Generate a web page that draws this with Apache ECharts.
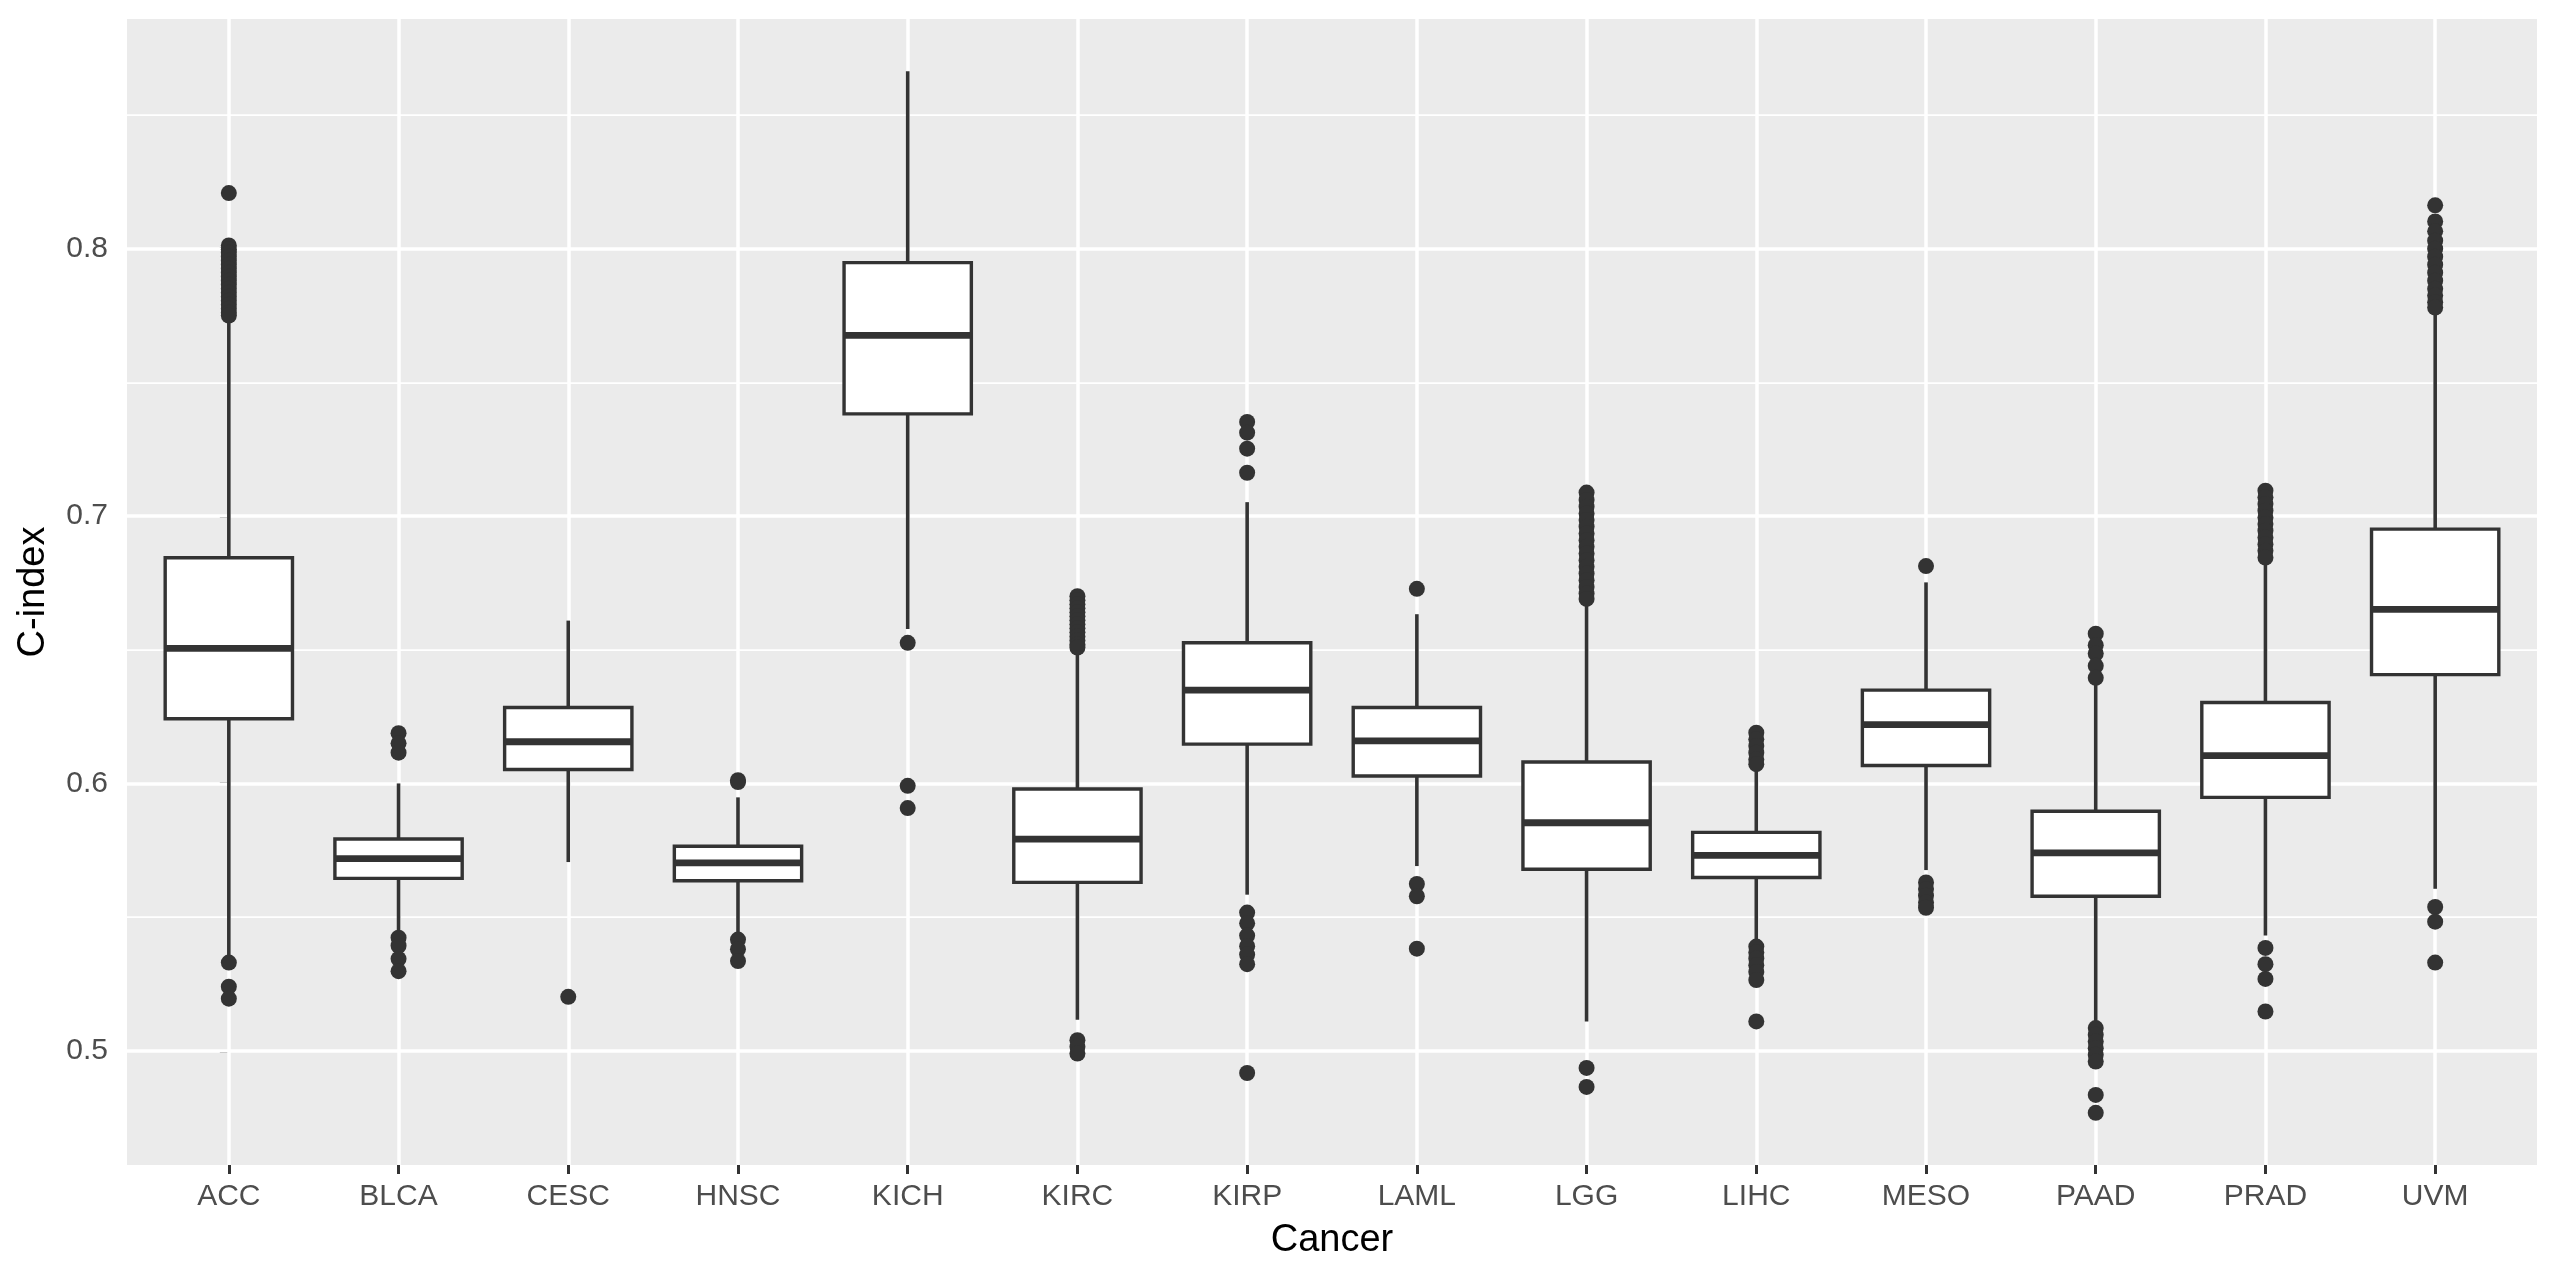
<!DOCTYPE html>
<html>
<head>
<meta charset="utf-8">
<script src="https://cdn.jsdelivr.net/npm/echarts@6/dist/echarts.min.js"></script>
<style>html,body{margin:0;padding:0;background:#fff}#chart{width:2560px;height:1280px}</style>
</head>
<body>
<div id="chart"></div>
<script>
const categories = ['ACC','BLCA','CESC','HNSC','KICH','KIRC','KIRP','LAML','LGG','LIHC','MESO','PAAD','PRAD','UVM'];
const lowerWhisker = [0.5350,0.5447,0.5706,0.5430,0.6578,0.5116,0.5584,0.5691,0.5110,0.5410,0.5676,0.5095,0.5431,0.5606];
const q1Values     = [0.6242,0.5645,0.6052,0.5636,0.7382,0.5630,0.6147,0.6028,0.5679,0.5648,0.6067,0.5578,0.5948,0.6407];
const medianValues = [0.6505,0.5719,0.6156,0.5703,0.7676,0.5792,0.6349,0.6159,0.5853,0.5731,0.6220,0.5740,0.6104,0.6651];
const q3Values     = [0.6844,0.5792,0.6284,0.5765,0.7948,0.5979,0.6526,0.6284,0.6080,0.5817,0.6349,0.5896,0.6303,0.6951];
const upperWhisker = [0.7745,0.6000,0.6609,0.5948,0.8664,0.6500,0.7052,0.6633,0.6675,0.6058,0.6752,0.6379,0.6823,0.7755];
const outlierValues = [
  [0.8208,0.8012,0.7998,0.7985,0.7970,0.7955,0.7940,0.7925,0.7910,0.7895,0.7880,0.7865,0.7850,0.7835,0.7820,0.7805,0.7790,0.7775,0.7760,0.7750,0.5330,0.5240,0.5195],
  [0.6188,0.6150,0.6115,0.5423,0.5393,0.5344,0.5298],
  [0.5202],
  [0.6012,0.6005,0.5416,0.5380,0.5336],
  [0.6526,0.5991,0.5908],
  [0.6700,0.6685,0.6670,0.6655,0.6640,0.6625,0.6610,0.6595,0.6580,0.6565,0.6550,0.6535,0.6520,0.6508,0.5040,0.5015,0.4990],
  [0.7352,0.7312,0.7252,0.7162,0.5517,0.5477,0.5431,0.5391,0.5360,0.5324,0.4917],
  [0.6728,0.5624,0.5578,0.5382],
  [0.7088,0.7060,0.7035,0.7010,0.6985,0.6960,0.6935,0.6910,0.6885,0.6860,0.6835,0.6810,0.6785,0.6760,0.6735,0.6710,0.6690,0.4936,0.4865],
  [0.6190,0.6165,0.6140,0.6115,0.6090,0.6072,0.5390,0.5368,0.5345,0.5320,0.5295,0.5265,0.5110],
  [0.6813,0.5630,0.5605,0.5580,0.5555,0.5535],
  [0.6560,0.6517,0.6486,0.6440,0.6395,0.5085,0.5060,0.5035,0.5010,0.4985,0.4960,0.4835,0.4768],
  [0.7095,0.7070,0.7045,0.7020,0.6995,0.6970,0.6945,0.6920,0.6895,0.6870,0.6845,0.5385,0.5324,0.5269,0.5147],
  [0.8162,0.8102,0.8065,0.8030,0.8000,0.7970,0.7940,0.7910,0.7880,0.7850,0.7825,0.7800,0.7780,0.5538,0.5483,0.5330]
];
const yMajorTicks = [0.5,0.6,0.7,0.8];
const yMinorLines = [0.55,0.65,0.75,0.85];
const yRange = [0.4573, 0.8859];
const xRange = [-0.6, categories.length - 1 + 0.6];

const boxData = categories.map((c, i) => [i, lowerWhisker[i], q1Values[i], medianValues[i], q3Values[i], upperWhisker[i]]);
const outlierData = [];
outlierValues.forEach((arr, i) => arr.forEach(v => outlierData.push([i, v])));
const xIdx = categories.map((c, i) => i);

const ink = '#333333';
const font = 'Liberation Sans, Arial, Helvetica, sans-serif';

const chart = echarts.init(document.getElementById('chart'), null, {renderer: 'canvas'});
chart.setOption({
  animation: false,
  backgroundColor: '#ffffff',
  grid: {left: 127, right: 23, top: 19, bottom: 115, show: true, backgroundColor: '#EBEBEB', borderWidth: 0},
  xAxis: {
    type: 'value', min: xRange[0], max: xRange[1],
    axisLine: {show: false},
    axisTick: {show: true, customValues: xIdx, length: 9, lineStyle: {color: ink, width: 3}},
    axisLabel: {show: true, customValues: xIdx, formatter: v => categories[Math.round(v)] || '', fontSize: 30, color: '#4D4D4D', fontFamily: font, margin: 17},
    splitLine: {show: false},
    name: 'Cancer', nameLocation: 'middle', nameGap: 57,
    nameTextStyle: {fontSize: 38, color: '#000000', fontFamily: font}
  },
  yAxis: {
    type: 'value', min: yRange[0], max: yRange[1],
    axisLine: {show: false},
    axisTick: {show: true, customValues: yMajorTicks, length: 9, lineStyle: {color: ink, width: 3}},
    axisLabel: {show: true, customValues: yMajorTicks, formatter: v => v.toFixed(1), fontSize: 30, color: '#4D4D4D', fontFamily: font, margin: 19},
    splitLine: {show: false},
    name: 'C-index', nameLocation: 'middle', nameGap: 74, nameRotate: 90,
    nameTextStyle: {fontSize: 38, color: '#000000', fontFamily: font}
  },
  series: [
    {
      type: 'line', data: [], z: 1, silent: true,
      markLine: {
        z: 1, silent: true, symbol: 'none', animation: false, label: {show: false},
        data: [
          ...yMinorLines.map(v => ({yAxis: v, lineStyle: {color: '#ffffff', width: 1.75, type: 'solid'}})),
          ...yMajorTicks.map(v => ({yAxis: v, lineStyle: {color: '#ffffff', width: 3.5, type: 'solid'}})),
          ...xIdx.map(v => ({xAxis: v, lineStyle: {color: '#ffffff', width: 3.5, type: 'solid'}}))
        ]
      }
    },
    {
      type: 'custom', z: 3, silent: true,
      data: boxData,
      encode: {x: 0, y: [1, 2, 3, 4, 5]},
      renderItem: function (params, api) {
        const x = api.value(0);
        const lo = api.coord([x, api.value(1)]);
        const a = api.coord([x, api.value(2)]);
        const m = api.coord([x, api.value(3)]);
        const b = api.coord([x, api.value(4)]);
        const hi = api.coord([x, api.value(5)]);
        const w = api.size([0.75, 0])[0];
        const cx = lo[0];
        const ls = {stroke: ink, lineWidth: 3.6};
        return {
          type: 'group',
          children: [
            {type: 'line', shape: {x1: cx, y1: hi[1], x2: cx, y2: b[1]}, style: ls},
            {type: 'line', shape: {x1: cx, y1: a[1], x2: cx, y2: lo[1]}, style: ls},
            {type: 'rect', shape: {x: cx - w / 2, y: b[1], width: w, height: a[1] - b[1]}, style: {fill: '#ffffff', stroke: ink, lineWidth: 3.4}},
            {type: 'line', shape: {x1: cx - w / 2, y1: m[1], x2: cx + w / 2, y2: m[1]}, style: {stroke: ink, lineWidth: 6.8}}
          ]
        };
      }
    },
    {
      type: 'scatter', z: 5, silent: true,
      data: outlierData,
      symbol: 'circle', symbolSize: 16,
      itemStyle: {color: ink, opacity: 1}
    }
  ]
});
</script>
</body>
</html>
